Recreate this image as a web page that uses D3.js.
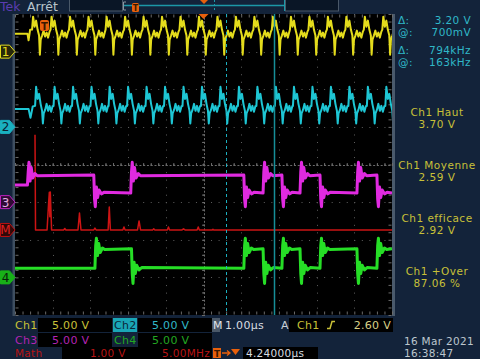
<!DOCTYPE html>
<html><head><meta charset="utf-8">
<script src="https://cdn.jsdelivr.net/npm/d3@7"></script>
<style>
html,body{margin:0;padding:0;background:#13233a;}
svg{display:block;font-family:"DejaVu Sans",sans-serif;}
</style></head><body>
<svg width="480" height="359"></svg>
<script>
var svg = d3.select("svg"),
    plot = {left: 15, right: 392, top: 14, bottom: 315};

// time base: 1.00 us/div, 10 div ; 8 vertical div
var timeUs = [0, 10];
var cursorsUs = [5.61, 6.87];

// ch1 / ch2 : one cycle (dt us from peak, volts) + peak times
var ch1Lead = [[0, 2.39], [0.33, 2.39], [0.36, 1.5], [0.40, 2.9]];
var ch1Cycle = [[-0.027, 2.93], [0, 4.65], [0.040, 3.32], [0.080, 4.12], [0.119, 2.93], [0.159, 2.13],
  [0.180, -0.40], [0.202, 1.60], [0.239, 2.13], [0.279, 2.79], [0.318, 2.00], [0.358, 2.53], [0.398, 1.86], [0.438, 2.66]];
var ch1Peaks = [0.48, 0.97, 1.46, 1.95, 2.43, 2.92, 3.41, 3.90, 4.39, 4.88, 5.37, 5.86, 6.35, 6.84, 7.32, 7.81, 8.30, 8.79, 9.28, 9.77];

var ch2Lead = [[0, 2.39], [0.36, 2.39], [0.41, 1.2], [0.47, 2.7]];
var ch2Cycle = [[-0.027, 2.79], [0, 5.32], [0.040, 3.72], [0.080, 4.39], [0.119, 3.06], [0.159, 2.13],
  [0.180, 0.45], [0.202, 1.80], [0.239, 2.26], [0.279, 3.06], [0.318, 2.13], [0.358, 2.79], [0.398, 2.00], [0.438, 2.79]];
var ch2Peaks = [0.56, 1.05, 1.54, 2.03, 2.51, 3.00, 3.49, 3.98, 4.47, 4.96, 5.45, 5.94, 6.43, 6.92, 7.40, 7.89, 8.38, 8.87, 9.36, 9.85];

// ch3 / ch4 : two levels with ringing at each edge
var ch3Start = 2.26, ch3Low = 1.2, ch3High = 3.6;
var ch3Edges = [[0.33, 1], [2.09, 0], [3.07, 1], [6.07, 0], [6.58, 1], [7.08, 0], [7.56, 1], [8.09, 0], [9.07, 1], [9.60, 0]];
var ch3RingUp = [[0.02, 4.0], [0.04, 5.3], [0.07, 2.8], [0.10, 4.6], [0.14, 3.2], [0.20, 3.8], [0.26, 3.5]];
var ch3RingDown = [[0.02, 0.4], [0.04, -0.6], [0.07, 2.0], [0.10, 0.6], [0.14, 1.6], [0.20, 1.1], [0.27, 1.3]];

var ch4Start = 1.2, ch4Low = 1.2, ch4High = 3.8;
var ch4Edges = [[2.12, 1], [3.09, 0], [6.07, 1], [6.58, 0], [7.08, 1], [7.56, 0], [8.09, 1], [9.07, 0], [9.60, 1]];
var ch4RingUp = [[0.02, 4.2], [0.04, 5.2], [0.07, 2.9], [0.10, 4.5], [0.14, 3.3], [0.20, 3.9], [0.26, 3.7]];
var ch4RingDown = [[0.02, 0.5], [0.04, -0.8], [0.07, 2.0], [0.10, 0.5], [0.14, 1.6], [0.20, 1.0], [0.27, 1.3]];

// math (FFT), MHz vs volts
var mathTrace = [[0, 2.53], [0.07, 0], [1.6, 0], [1.8, 0.7], [1.9, 1.0], [1.97, 0.35], [2.03, 1.01], [2.2, 0],
  [3.8, 0], [3.95, 0.04], [4.1, 0], [5.7, 0], [5.9, 0.45], [6.1, 0], [7.8, 0], [7.95, 0.05], [8.1, 0],
  [9.7, 0], [9.85, 0.61], [10.0, 0], [11.65, 0], [11.8, 0.08], [11.95, 0], [13.6, 0], [13.8, 0.24], [14.0, 0],
  [15.6, 0], [15.75, 0.03], [15.9, 0], [17.55, 0], [17.7, 0.08], [17.85, 0], [19.5, 0], [19.7, 0.03], [19.9, 0],
  [21.5, 0], [21.65, 0.08], [21.8, 0], [23.5, 0], [23.6, 0.02], [23.7, 0], [50, 0]];

var measNames = ["Ch1 Haut", "Ch1 Moyenne", "Ch1 efficace", "Ch1 +Over"];
var measValues = ["3.70 V", "2.59 V", "2.92 V", "87.06 %"];
var cursorLabels = ["\u0394:", "@:", "\u0394:", "@:"];
var cursorValues = ["3.20 V", "700mV", "794kHz", "163kHz"];

var x = d3.scaleLinear().domain(timeUs).range([plot.left, plot.right]);
var yDiv = d3.scaleLinear().domain([4, -4]).range([plot.top, plot.bottom]);
var fx = d3.scaleLinear().domain([0, 50]).range([35, 35 + (plot.right - plot.left)]);
function chY(pos, vdiv) { return function(v) { return yDiv(pos + v / vdiv); }; }

var col = {y: "#e4dc1c", c: "#1ec6d4", m: "#e02ae0", r: "#cc1414", g: "#26de26",
  ytxt: "#c8c038", ctxt: "#30b8c8", bg: "#13233a"};

// top bar
svg.append("text").attr("x", 0).attr("y", 11).attr("font-size", 12.5).attr("fill", "#5b3cb0").text("Tek");
svg.append("text").attr("x", 27).attr("y", 11).attr("font-size", 12.5).attr("fill", "#b8c4cc").text("Arrêt");
svg.append("rect").attr("x", 69.5).attr("y", -1).attr("width", 53).attr("height", 12).attr("fill", "#0a1626").attr("stroke", "#4a5868");
svg.append("rect").attr("x", 285.5).attr("y", -1).attr("width", 53).attr("height", 12).attr("fill", "#0a1626").attr("stroke", "#4a5868");
svg.append("path").attr("d", "M126,2H123.5V10H126").attr("fill", "none").attr("stroke", "#8a96a0");
svg.append("line").attr("x1", 124).attr("x2", 284).attr("y1", 5.5).attr("y2", 5.5).attr("stroke", "#1c98a8").attr("stroke-width", 1.5);
svg.append("line").attr("x1", 284.5).attr("x2", 284.5).attr("y1", 0).attr("y2", 11).attr("stroke", "#1c98a8");
svg.append("line").attr("x1", 214.5).attr("x2", 214.5).attr("y1", 0).attr("y2", 12).attr("stroke", "#1c98a8").attr("stroke-dasharray", "2,2");
svg.append("rect").attr("x", 132).attr("y", 3).attr("width", 7).attr("height", 9).attr("rx", 1.5).attr("fill", "#e8600c");
svg.append("text").attr("x", 135.5).attr("y", 10.5).attr("font-size", 8).attr("font-weight", "bold").attr("text-anchor", "middle").attr("fill", "#3a1800").text("T");
svg.append("path").attr("d", "M200,0H208L204,4Z").attr("fill", "#e8600c");

// plot area
svg.append("rect").attr("x", plot.left).attr("y", plot.top).attr("width", plot.right - plot.left).attr("height", plot.bottom - plot.top).attr("fill", "#000");
svg.append("rect").attr("x", 12.5).attr("y", plot.top).attr("width", 2.5).attr("height", plot.bottom - plot.top + 1).attr("fill", "#3e4e60");
svg.append("rect").attr("x", plot.right).attr("y", plot.top).attr("width", 3).attr("height", plot.bottom - plot.top + 1).attr("fill", "#4a5a6c");

var grid = svg.append("g").attr("stroke", "#5e5e5e").attr("stroke-width", 1);
var vdot = ((plot.bottom - plot.top) / 40 - 1).toFixed(2), hdot = ((plot.right - plot.left) / 50 - 1).toFixed(2);
grid.selectAll(".gv").data(d3.range(1, 10)).enter().append("line")
  .attr("x1", function(d) { return Math.round(x(d)) + 0.5; }).attr("x2", function(d) { return Math.round(x(d)) + 0.5; })
  .attr("y1", plot.top).attr("y2", plot.bottom).attr("stroke-dasharray", "1," + vdot);
grid.selectAll(".gh").data(d3.range(-3, 4)).enter().append("line")
  .attr("y1", function(d) { return Math.round(yDiv(d)) + 0.5; }).attr("y2", function(d) { return Math.round(yDiv(d)) + 0.5; })
  .attr("x1", plot.left).attr("x2", plot.right).attr("stroke-dasharray", "1," + hdot);

// centre crosshair and edge ticks through axes
function styleAxis(g) { g.select(".domain").remove(); g.selectAll(".tick line").attr("stroke", "#6a6a6a"); }
var minorT = d3.range(0, 10.01, 0.2), minorV = d3.range(-4, 4.01, 0.2);
[[yDiv(0) - 0.5, d3.axisBottom, 2], [yDiv(0) + 0.5, d3.axisTop, 2], [plot.bottom - 0.5, d3.axisTop, 3], [plot.top + 0.5, d3.axisBottom, 3]].forEach(function(a) {
  svg.append("g").attr("transform", "translate(0," + a[0] + ")")
    .call(a[1](x).tickValues(minorT).tickSize(a[2]).tickFormat("")).call(styleAxis);
});
[[x(5) - 0.5, d3.axisRight, 2], [x(5) + 0.5, d3.axisLeft, 2], [plot.left + 0.5, d3.axisRight, 3], [plot.right - 0.5, d3.axisLeft, 3]].forEach(function(a) {
  svg.append("g").attr("transform", "translate(" + a[0] + ",0)")
    .call(a[1](yDiv).tickValues(minorV).tickSize(a[2]).tickFormat("")).call(styleAxis);
});
svg.append("line").attr("x1", plot.left).attr("x2", plot.right).attr("y1", Math.round(yDiv(0)) + 0.5).attr("y2", Math.round(yDiv(0)) + 0.5)
  .attr("stroke", "#6a6a6a").attr("stroke-dasharray", "2,1.77");
svg.append("line").attr("y1", plot.top).attr("y2", plot.bottom).attr("x1", Math.round(x(5)) + 0.5).attr("x2", Math.round(x(5)) + 0.5)
  .attr("stroke", "#6a6a6a").attr("stroke-dasharray", "2,1.76");

svg.append("clipPath").attr("id", "clip").append("rect")
  .attr("x", plot.left).attr("y", plot.top).attr("width", plot.right - plot.left).attr("height", plot.bottom - plot.top);
var traces = svg.append("g").attr("clip-path", "url(#clip)");

function tiled(lead, cycle, peaks) {
  var pts = lead.slice();
  peaks.forEach(function(p) { cycle.forEach(function(c) { pts.push([p + c[0], c[1]]); }); });
  return pts;
}
function stepped(start, low, high, edges, up, down) {
  var pts = [[0, start]], lvl = start;
  edges.forEach(function(e) {
    pts.push([e[0], lvl]);
    (e[1] ? up : down).forEach(function(r) { pts.push([e[0] + r[0], r[1]]); });
    lvl = e[1] ? high : low;
  });
  pts.push([10, lvl]);
  return pts;
}
function drawTrace(data, yf, color, w, xs) {
  var line = d3.line().x(function(d) { return (xs || x)(d[0]); }).y(function(d) { return yf(d[1]); });
  traces.append("path").datum(data).attr("d", line).attr("fill", "none").attr("stroke", color)
    .attr("stroke-width", w).attr("stroke-linejoin", "round");
}

drawTrace(mathTrace, chY(-1.74, 1), col.r, 1.5, fx);
drawTrace(stepped(ch3Start, ch3Low, ch3High, ch3Edges, ch3RingUp, ch3RingDown), chY(-1, 5), col.m, 3);
drawTrace(stepped(ch4Start, ch4Low, ch4High, ch4Edges, ch4RingUp, ch4RingDown), chY(-3, 5), col.g, 3);
drawTrace(tiled(ch2Lead, ch2Cycle, ch2Peaks), chY(1, 5), col.c, 2);
drawTrace(tiled(ch1Lead, ch1Cycle, ch1Peaks), chY(3, 5), col.y, 2);

// cursors
svg.append("line").attr("x1", Math.round(x(cursorsUs[0])) + 0.5).attr("x2", Math.round(x(cursorsUs[0])) + 0.5)
  .attr("y1", plot.top).attr("y2", plot.bottom).attr("stroke", "#1cb0c0").attr("stroke-dasharray", "3,3");
svg.append("line").attr("x1", Math.round(x(cursorsUs[1])) + 0.5).attr("x2", Math.round(x(cursorsUs[1])) + 0.5)
  .attr("y1", plot.top).attr("y2", plot.bottom).attr("stroke", "#178e98").attr("stroke-width", 1.5);

// trigger markers
svg.append("path").attr("d", "M" + (x(5) - 5) + "," + plot.top + "h10l-5,5z").attr("fill", "#e8600c");
svg.append("rect").attr("x", 40).attr("y", 20).attr("width", 9).attr("height", 11).attr("rx", 2).attr("fill", "#e8600c");
svg.append("text").attr("x", 44.5).attr("y", 29.5).attr("font-size", 10).attr("font-weight", "bold").attr("text-anchor", "middle").attr("fill", "#3a1800").text("T");

// channel flags
var flags = [
  {lab: "1", pos: 3, fill: "#28280a", stroke: col.y, txt: col.y},
  {lab: "2", pos: 1, fill: "#1ab0c0", stroke: "#1ab0c0", txt: "#0a2030"},
  {lab: "3", pos: -1, fill: "#300a34", stroke: "#c020c0", txt: "#e0b0e0"},
  {lab: "M", pos: -1.74, fill: "#300808", stroke: "#c01010", txt: "#e02020"},
  {lab: "4", pos: -3, fill: "#18b018", stroke: "#18b018", txt: "#082008"}
];
var fg = svg.selectAll(".flag").data(flags).enter().append("g")
  .attr("transform", function(d) { return "translate(0," + yDiv(d.pos) + ")"; });
fg.append("path").attr("d", "M0.5,-6.5H9.5L15,0L9.5,6.5H0.5Z")
  .attr("fill", function(d) { return d.fill; }).attr("stroke", function(d) { return d.stroke; });
fg.append("text").attr("x", 5.5).attr("y", 4.5).attr("font-size", 12).attr("text-anchor", "middle")
  .attr("fill", function(d) { return d.txt; }).text(function(d) { return d.lab; });

// right panel
var cy = [20, 32, 50, 62];
cursorLabels.forEach(function(l, i) {
  svg.append("text").attr("x", 398).attr("y", cy[i] + 4).attr("font-size", 10.5).attr("letter-spacing", 0.4).attr("fill", col.ctxt).text(l);
  svg.append("text").attr("x", 471).attr("y", cy[i] + 4).attr("font-size", 10.5).attr("letter-spacing", 0.4).attr("text-anchor", "end").attr("fill", col.ctxt).text(cursorValues[i]);
});
measNames.forEach(function(n, i) {
  var y0 = 112 + i * 53;
  svg.append("text").attr("x", 437).attr("y", y0 + 4).attr("font-size", 10.5).attr("letter-spacing", 0.5).attr("text-anchor", "middle").attr("fill", col.ytxt).text(n);
  svg.append("text").attr("x", 437).attr("y", y0 + 16).attr("font-size", 10.5).attr("letter-spacing", 0.5).attr("text-anchor", "middle").attr("fill", col.ytxt).text(measValues[i]);
});

// bottom status
function box(x0, y0, w, h, fill) { svg.append("rect").attr("x", x0).attr("y", y0).attr("width", w).attr("height", h).attr("fill", fill || "#000"); }
function txt(x0, y0, s, fill, anchor, size) {
  svg.append("text").attr("x", x0).attr("y", y0).attr("font-size", size || 11).attr("letter-spacing", 0.3).attr("fill", fill)
    .attr("text-anchor", anchor || "start").text(s);
}
box(38, 318, 74, 14); box(113, 318, 24, 14, "#1aa6b6"); box(138, 318, 74, 14);
box(212, 318, 8, 14, "#4a5868"); box(289, 318, 104, 14);
box(38, 333, 74, 14); box(138, 333, 74, 14);
box(62, 347, 150, 12); box(243, 347, 75, 12);
txt(15, 329, "Ch1", col.ytxt); txt(52, 329, "5.00 V", col.ytxt);
txt(114, 329, "Ch2", "#0a2638"); txt(152, 329, "5.00 V", col.ctxt);
txt(213, 329, "M", "#e0e4e8"); txt(225, 329, "1.00\u00b5s", "#d8dde0");
txt(281, 329, "A", "#c8d0d8"); txt(297, 329, "Ch1", col.ytxt);
svg.append("path").attr("d", "M327,328.5H330L332,321.5H335").attr("fill", "none").attr("stroke", col.ytxt).attr("stroke-width", 1.5);
txt(391, 329, "2.60 V", "#d8d088", "end");
txt(15, 344, "Ch3", "#b424b4"); txt(52, 344, "5.00 V", "#b424b4");
txt(114, 344, "Ch4", "#22a822"); txt(152, 344, "5.00 V", "#22a822");
txt(15, 357, "Math", "#b81414", null, 10.5); txt(90, 357, "1.00 V", "#b81414", null, 10.5); txt(210, 357, "5.00MHz", "#b81414", "end", 10.5);
box(213, 348, 8, 10, "#e8600c");
svg.append("text").attr("x", 217).attr("y", 356.5).attr("font-size", 9).attr("font-weight", "bold").attr("text-anchor", "middle").attr("fill", "#3a1800").text("T");
svg.append("path").attr("d", "M222,353H230M227,350.5L230,353L227,355.5").attr("fill", "none").attr("stroke", "#e8600c").attr("stroke-width", 1.3);
svg.append("path").attr("d", "M231,349H240L235.5,355Z").attr("fill", "#e8600c");
txt(246, 357, "4.24000\u00b5s", "#d8dde0", null, 10.5);
txt(404, 345, "16 Mar  2021", "#bcc6ce", null, 10.5); txt(404, 357, "16:38:47", "#bcc6ce", null, 10.5);
</script></body></html>
